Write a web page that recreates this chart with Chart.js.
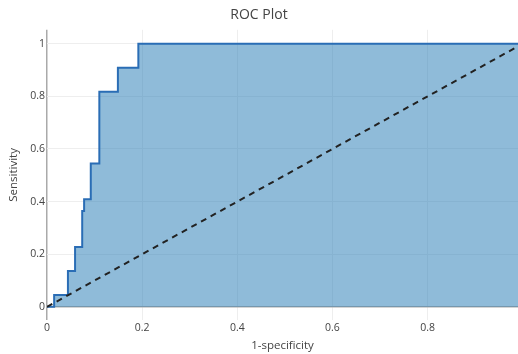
<!DOCTYPE html>
<html>
<head>
<meta charset="utf-8">
<script src="https://cdn.jsdelivr.net/npm/chart.js@4/dist/chart.umd.min.js"></script>
<style>
  html, body { margin: 0; padding: 0; background: #fff; }
  #wrap { width: 518px; height: 354px; }
</style>
</head>
<body>
<div id="wrap"><canvas id="rocChart"></canvas></div>
<script>
// ROC curve points (1-specificity, sensitivity)
const fpr = [0, 0.015, 0.044, 0.059, 0.074, 0.078, 0.092, 0.110, 0.149, 0.192, 1];
const tpr = [0, 0.045, 0.136, 0.227, 0.364, 0.409, 0.545, 0.818, 0.909, 1, 1];

// chance line
const chanceX = [0, 1];
const chanceY = [0, 1];

const xTicks = [0, 0.2, 0.4, 0.6, 0.8];
const yTicks = [0, 0.2, 0.4, 0.6, 0.8, 1];

const toPoints = (xs, ys) => xs.map((x, i) => ({ x: x, y: ys[i] }));
const tickFont = { family: 'Open Sans', size: 10.5 };

new Chart(document.getElementById('rocChart').getContext('2d'), {
    type: 'line',
    data: {
        datasets: [{
            label: 'Chance',
            data: toPoints(chanceX, chanceY),
            borderColor: '#222',
            borderWidth: 2,
            borderDash: [6, 5],
            pointRadius: 0,
            fill: false,
            clip: 0
        }, {
            label: 'ROC',
            data: toPoints(fpr, tpr),
            stepped: 'before',
            borderColor: '#2a6db5',
            borderWidth: 2,
            backgroundColor: 'rgba(31, 119, 180, 0.5)',
            pointRadius: 0,
            fill: 'origin',
            clip: 0
        }]
    },
    options: {
        responsive: true,
        maintainAspectRatio: false,
        animation: false,
        layout: { padding: 0 },
        plugins: {
            legend: { display: false },
            tooltip: { enabled: false },
            title: {
                display: true,
                text: 'ROC Plot',
                color: '#444',
                font: { family: 'Open Sans', size: 14, weight: 'normal' },
                padding: { top: 7, bottom: 6 }
            }
        },
        scales: {
            x: {
                type: 'linear',
                min: 0,
                max: 0.99,
                afterBuildTicks: s => { s.ticks = xTicks.map(v => ({ value: v })); },
                afterFit: s => { s.height = 34; },
                border: { display: false },
                grid: {
                    drawTicks: false,
                    color: c => c.tick && c.tick.value === 0 ? '#aaa' : '#eee',
                    lineWidth: c => c.tick && c.tick.value === 0 ? 1.5 : 1
                },
                ticks: {
                    color: '#444',
                    font: tickFont,
                    padding: 2,
                    maxRotation: 0,
                    callback: v => String(v)
                },
                title: {
                    display: true,
                    text: '1-specificity',
                    color: '#444',
                    font: { family: 'Open Sans', size: 11.5 },
                    padding: { top: 0, bottom: 1 }
                }
            },
            y: {
                type: 'linear',
                min: -0.05,
                max: 1.053,
                afterBuildTicks: s => { s.ticks = yTicks.map(v => ({ value: v })); },
                afterFit: s => { s.width = 47; },
                border: { display: false },
                grid: {
                    drawTicks: false,
                    color: c => c.tick && c.tick.value === 0 ? '#aaa' : '#eee',
                    lineWidth: c => c.tick && c.tick.value === 0 ? 1.5 : 1
                },
                ticks: {
                    color: '#444',
                    font: tickFont,
                    padding: 2,
                    callback: v => String(v)
                },
                title: {
                    display: true,
                    text: 'Sensitivity',
                    color: '#444',
                    font: { family: 'Open Sans', size: 11.5 },
                    padding: { top: 7, bottom: 0 }
                }
            }
        }
    }
});
</script>
</body>
</html>
